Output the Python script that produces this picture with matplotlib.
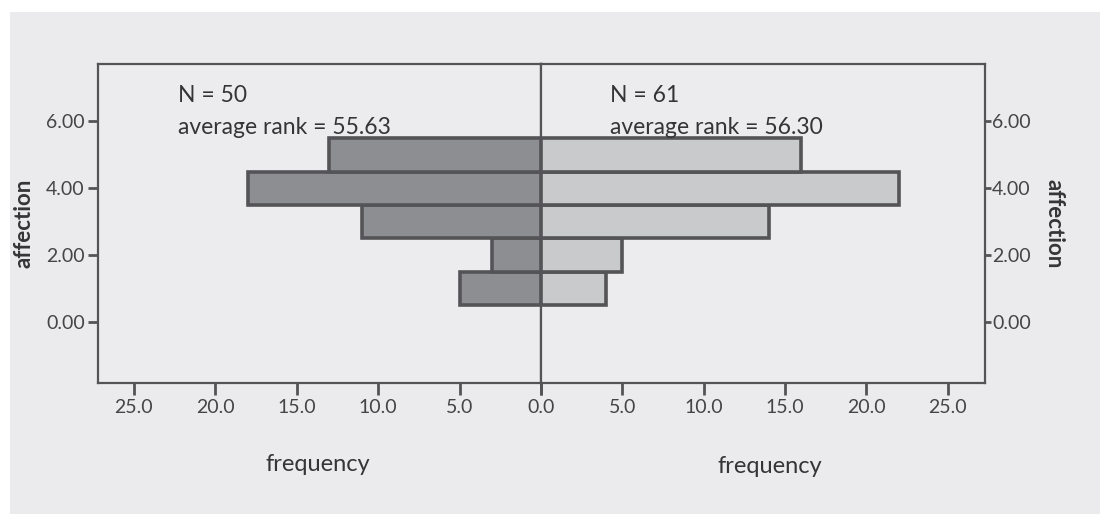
import matplotlib.pyplot as plt
import matplotlib.patches as mpatches
import numpy as np

plt.rcParams['font.family'] = ['Lato', 'DejaVu Sans']

# affection bins (bar centres) and frequencies for the two groups
affection = [1, 2, 3, 4, 5]
freq_left = [5, 3, 11, 18, 13]    # N = 50
freq_right = [4, 5, 14, 22, 16]   # N = 61

n_left, rank_left = 50, 55.63
n_right, rank_right = 61, 56.30

x_ticks = [0, 5, 10, 15, 20, 25]
y_ticks = [0, 2, 4, 6]

edge = '#545457'
bg = '#ECECEE'
tc = '#353537'

fig = plt.figure(figsize=(11, 5.14), dpi=100, facecolor='white')
# gray panel behind the chart (white strip top / left like the screenshot)
fig.patches.append(mpatches.Rectangle((10 / 1100, 0), 1, 1 - 12 / 514,
                                      transform=fig.transFigure,
                                      facecolor='#EBEBED', edgecolor='none', zorder=-10))

ax_l = fig.add_axes([0.0891, 0.2549, 0.4027, 0.6206])
ax_r = fig.add_axes([0.4918, 0.2549, 0.4037, 0.6206], sharey=ax_l)

for ax in (ax_l, ax_r):
    ax.set_facecolor(bg)
    for s in ax.spines.values():
        s.set_color(edge)
        s.set_linewidth(1.6)

ax_l.barh(affection, freq_left, height=1.0, color='#8D8E92', edgecolor=edge, linewidth=2.6, zorder=3)
ax_r.barh(affection, freq_right, height=1.0, color='#C9CACC', edgecolor=edge, linewidth=2.6, zorder=3)

ax_l.set_xlim(27.2, 0)
ax_r.set_xlim(0, 27.3)
ax_l.set_ylim(-1.83, 7.72)

ax_l.set_xticks(x_ticks)
ax_l.set_xticklabels([f'{v:.1f}' for v in x_ticks])
ax_r.set_xticks(x_ticks)
# the shared 0.0 label is drawn once, by the left panel
ax_r.set_xticklabels([''] + [f'{v:.1f}' for v in x_ticks[1:]])

ax_l.set_yticks(y_ticks)
ax_l.set_yticklabels([f'{v:.2f}' for v in y_ticks])
ax_r.yaxis.tick_right()
ax_r.tick_params(axis='y', labelright=True, labelleft=False)

ax_l.tick_params(axis='y', length=7.5, width=2, color=edge, labelsize=14, labelcolor='#454547', pad=2)
ax_l.tick_params(axis='x', length=8.5, width=2, color=edge, labelsize=14, labelcolor='#454547', pad=3)
ax_r.tick_params(axis='x', length=8.5, width=2, color=edge, labelsize=14, labelcolor='#454547', pad=3)
ax_r.tick_params(axis='y', length=4, width=2, color=edge, labelsize=14, labelcolor='#454547', pad=1)

ax_l.set_ylabel('affection', fontsize=16, color=tc, labelpad=8, fontweight='bold')
ax_r.set_ylabel('affection', fontsize=16, color=tc, labelpad=24, fontweight='bold', rotation=270)
ax_r.yaxis.set_label_position('right')

ax_l.set_xlabel('frequency', fontsize=17, color=tc)
ax_r.set_xlabel('frequency', fontsize=17, color=tc)
ax_l.xaxis.set_label_coords(0.497, -0.257)
ax_r.xaxis.set_label_coords(0.516, -0.263)
for a in (ax_l, ax_r):
    a.xaxis.label.set_va('center')

txt = dict(fontsize=16.5, color=tc, va='center', ha='left', zorder=5)
ax_l.text(0.18, 0.90, f'N = {n_left}', transform=ax_l.transAxes, **txt)
ax_l.text(0.18, 0.80, f'average rank = {rank_left:.2f}', transform=ax_l.transAxes, **txt)
ax_r.text(0.155, 0.90, f'N = {n_right}', transform=ax_r.transAxes, **txt)
ax_r.text(0.155, 0.80, f'average rank = {rank_right:.2f}', transform=ax_r.transAxes, **txt)

fig.savefig('out.png', dpi=100, facecolor='white')
